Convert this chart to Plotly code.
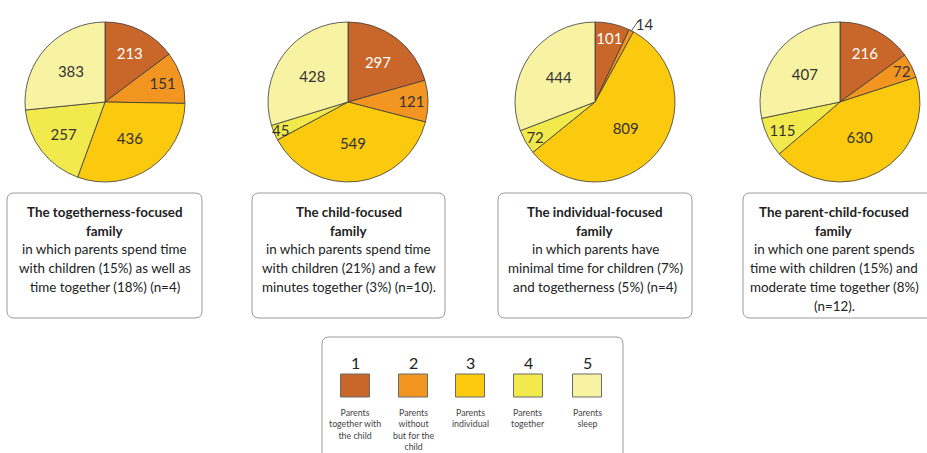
import math
import plotly.graph_objects as go

# ---------------- data ----------------
category_numbers = ["1", "2", "3", "4", "5"]
category_labels = [
    "Parents<br>together with<br>the child",
    "Parents<br>without<br>but for the<br>child",
    "Parents<br>individual",
    "Parents<br>together",
    "Parents<br>sleep",
]
category_names = [
    "Parents together with the child",
    "Parents without but for the child",
    "Parents individual",
    "Parents together",
    "Parents sleep",
]
colors = ["#C9672A", "#F39521", "#FBC90E", "#F2EA4D", "#F8F3A3"]

togetherness_focused = [213, 151, 436, 257, 383]
child_focused = [297, 121, 549, 45, 428]
individual_focused = [101, 14, 809, 72, 444]
parent_child_focused = [216, 72, 630, 115, 407]

family_titles = [
    ["The togetherness-focused", "family"],
    ["The child-focused", "family"],
    ["The individual-focused", "family"],
    ["The parent-child-focused", "family"],
]
family_descriptions = [
    ["in which parents spend time", "with children (15%) as well as", "time together (18%) (n=4)"],
    ["in which parents spend time", "with children (21%) and a few", "minutes together (3%) (n=10)."],
    ["in which parents have", "minimal time for children (7%)", "and togetherness (5%) (n=4)"],
    ["in which one parent spends", "time with children (15%) and", "moderate time together (8%)", "(n=12)."],
]
outside_slices = [[], [], [1], []]

# ---------------- layout constants ----------------
W, H = 927, 453
FONT = "Lato"
pie_cx = [105, 348, 595, 840]
pie_cy = 102
R = 80
box_x = [(7, 202), (252, 445), (498, 692), (743, 950)]
box_y = (193, 318)
text_cx = [104.5, 348.5, 595, 834]
line_y0, line_dy = 212, 18.7
legend_box = (322, 623, 337)
legend_cx = [355, 413, 470, 528, 587]

fig = go.Figure()
shapes = []
annotations = []

all_values = [togetherness_focused, child_focused, individual_focused, parent_child_focused]
for i, vals in enumerate(all_values):
    positions = ["outside" if k in outside_slices[i] else "inside" for k in range(len(vals))]
    fig.add_trace(go.Pie(
        values=vals,
        labels=category_names,
        sort=False,
        direction="clockwise",
        rotation=0,
        marker=dict(colors=colors, line=dict(color="#3a3a3a", width=0.8)),
        texttemplate="%{value}",
        textposition=positions,
        insidetextorientation="horizontal",
        textfont=dict(family=FONT, size=15,
                      color=["white", "#333", "#333", "#333", "#333"]),
        hoverinfo="label+value",
        domain=dict(x=[(pie_cx[i] - R) / W, (pie_cx[i] + R) / W],
                    y=[1 - (pie_cy + R) / H, 1 - (pie_cy - R) / H]),
        showlegend=False,
    ))
    # leader line for outside labels (angle derived from the data)
    total = sum(vals)
    for k in outside_slices[i]:
        mid = (sum(vals[:k]) + vals[k] / 2) / total * 2 * math.pi
        sx, sy = math.sin(mid), -math.cos(mid)
        shapes.append(dict(type="line", xref="x", yref="y",
                           x0=pie_cx[i] + sx * (R - 1), y0=pie_cy + sy * (R - 1),
                           x1=pie_cx[i] + sx * (R + 11) + 2, y1=pie_cy + sy * (R + 11),
                           line=dict(color="#333", width=0.8)))


def rounded_rect(x0, y0, x1, y1, r):
    return (f"M {x0+r},{y0} L {x1-r},{y0} Q {x1},{y0} {x1},{y0+r} "
            f"L {x1},{y1-r} Q {x1},{y1} {x1-r},{y1} L {x0+r},{y1} "
            f"Q {x0},{y1} {x0},{y1-r} L {x0},{y0+r} Q {x0},{y0} {x0+r},{y0} Z")


for i in range(4):
    x0, x1 = box_x[i]
    shapes.append(dict(type="path", xref="x", yref="y",
                       path=rounded_rect(x0, box_y[0], x1, box_y[1], 7),
                       line=dict(color="#9a9a9a", width=1), fillcolor="white", layer="below"))
    lines = [f"<b>{t}</b>" for t in family_titles[i]] + family_descriptions[i]
    for j, txt in enumerate(lines):
        annotations.append(dict(
            x=text_cx[i], y=line_y0 + j * line_dy,
            xref="x", yref="y", xanchor="center", yanchor="middle", showarrow=False,
            text=txt, font=dict(family=FONT, size=13.4, color="#222")))

# legend box
lx0, lx1, ly0 = legend_box
shapes.append(dict(type="path", xref="x", yref="y",
                   path=rounded_rect(lx0, ly0, lx1, H + 20, 7),
                   line=dict(color="#9a9a9a", width=1), fillcolor="white", layer="below"))
for k in range(5):
    cx = legend_cx[k]
    shapes.append(dict(type="rect", xref="x", yref="y", x0=cx - 14.5, x1=cx + 14.5,
                       y0=374, y1=397, fillcolor=colors[k],
                       line=dict(color="#6a6a6a", width=1)))
    annotations.append(dict(x=cx, y=362, xref="x", yref="y", showarrow=False,
                            text=category_numbers[k], xanchor="center", yanchor="middle",
                            font=dict(family=FONT, size=16, color="#222")))
    annotations.append(dict(x=cx, y=405, xref="x", yref="y", showarrow=False,
                            text=category_labels[k], xanchor="center", yanchor="top",
                            align="center",
                            font=dict(family=FONT, size=8.8, color="#444")))

fig.update_layout(
    width=W, height=H,
    margin=dict(l=0, r=0, t=0, b=0),
    paper_bgcolor="white", plot_bgcolor="white",
    xaxis=dict(range=[0, W], visible=False, domain=[0, 1], fixedrange=True),
    yaxis=dict(range=[H, 0], visible=False, domain=[0, 1], fixedrange=True),
    shapes=shapes, annotations=annotations,
    uniformtext=dict(minsize=15, mode="show"),
    showlegend=False,
)

fig.write_html("out.html",
               config={"displayModeBar": False},
               post_script="document.body.style.margin='0';document.body.style.overflow='hidden';")
